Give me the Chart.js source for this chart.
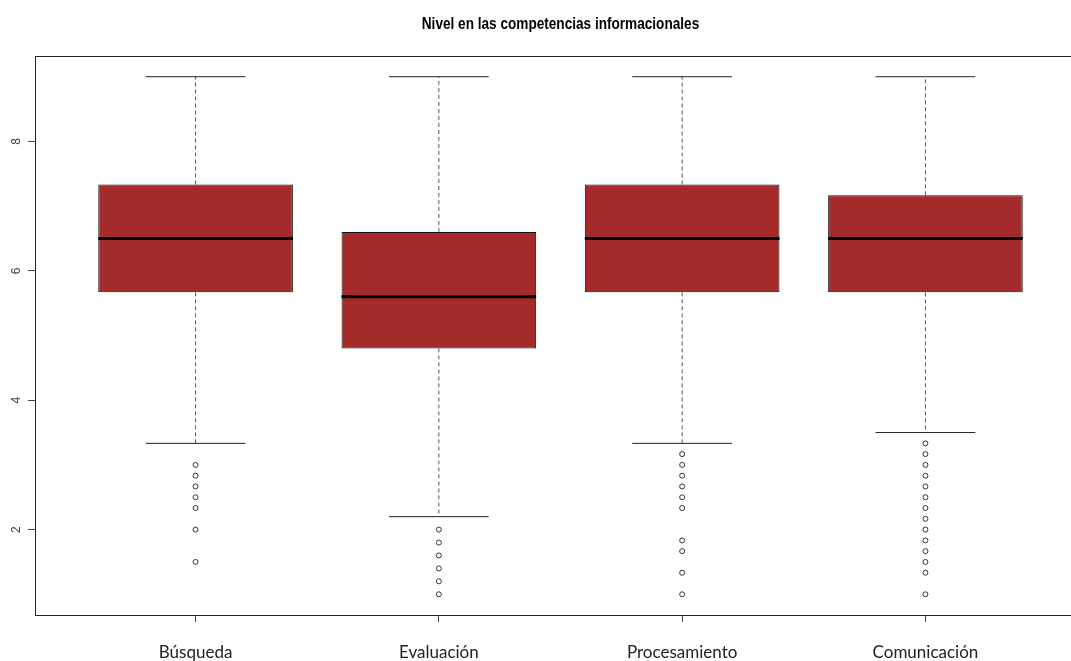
<!DOCTYPE html>
<html>
<head>
<meta charset="utf-8">
<script src="https://cdn.jsdelivr.net/npm/chart.js@4.4.1/dist/chart.umd.min.js"></script>
<style>
html,body{margin:0;padding:0;background:#fff;overflow:hidden;}
#wrap{position:absolute;left:0;top:0;width:1092px;height:661px;}
</style>
</head>
<body>
<div id="wrap"><canvas id="c" width="1092" height="661"></canvas></div>
<script>
const categories = ['Búsqueda', 'Evaluación', 'Procesamiento', 'Comunicación'];
const whiskerLow  = [3.333, 2.2, 3.333, 3.5];
const q1          = [5.667, 4.8, 5.667, 5.667];
const median      = [6.5, 5.6, 6.5, 6.5];
const q3          = [7.333, 6.6, 7.333, 7.167];
const whiskerHigh = [9, 9, 9, 9];
const outliersBusqueda      = [3.0, 2.833, 2.667, 2.5, 2.333, 2.0, 1.5];
const outliersEvaluacion    = [2.0, 1.8, 1.6, 1.4, 1.2, 1.0];
const outliersProcesamiento = [3.167, 3.0, 2.833, 2.667, 2.5, 2.333, 1.833, 1.667, 1.333, 1.0];
const outliersComunicacion  = [3.333, 3.167, 3.0, 2.833, 2.667, 2.5, 2.333, 2.167, 2.0, 1.833, 1.667, 1.5, 1.333, 1.0];
const yTicks = [2, 4, 6, 8];
const titleText = 'Nivel en las competencias informacionales';

const outlierLists = [outliersBusqueda, outliersEvaluacion, outliersProcesamiento, outliersComunicacion];
const BOX_HALF = 0.4, CAP_HALF = 0.205;

const boxData = categories.map((c, i) => ({x: i + 1, y: [q1[i], q3[i]]}));
const whiskerData = [], capData = [], medianData = [], outlierData = [];
categories.forEach((c, i) => {
  const x = i + 1;
  whiskerData.push({x, y: q3[i]}, {x, y: whiskerHigh[i]}, {x, y: null},
                   {x, y: q1[i]}, {x, y: whiskerLow[i]}, {x, y: null});
  capData.push({x: x - CAP_HALF, y: whiskerHigh[i]}, {x: x + CAP_HALF, y: whiskerHigh[i]}, {x, y: null},
               {x: x - CAP_HALF, y: whiskerLow[i]}, {x: x + CAP_HALF, y: whiskerLow[i]}, {x, y: null});
  medianData.push({x: x - BOX_HALF, y: median[i]}, {x: x + BOX_HALF, y: median[i]}, {x, y: null});
  outlierLists[i].forEach(v => outlierData.push({x, y: v}));
});

const framePlugin = {
  id: 'frame',
  afterDraw(chart) {
    const ctx = chart.ctx, a = chart.chartArea, ys = chart.scales.y;
    ctx.save();
    ctx.strokeStyle = '#222';
    ctx.lineWidth = 1;
    ctx.strokeRect(Math.round(a.left) + 0.5, Math.round(a.top) + 0.5,
                   Math.round(a.right - a.left), Math.round(a.bottom - a.top));
    // rotated y tick labels (R style)
    ctx.fillStyle = '#444';
    ctx.font = '12px "Liberation Sans", Arial, sans-serif';
    ctx.textAlign = 'center';
    ctx.textBaseline = 'middle';
    yTicks.forEach(v => {
      const py = ys.getPixelForValue(v);
      ctx.save();
      ctx.translate(17, py);
      ctx.rotate(-Math.PI / 2);
      ctx.fillText(String(v), 0, 0);
      ctx.restore();
    });
    // condensed bold title centred over the plot area
    ctx.save();
    ctx.fillStyle = '#000';
    ctx.font = 'bold 17px "Liberation Sans", Arial, sans-serif';
    ctx.textAlign = 'center';
    ctx.textBaseline = 'alphabetic';
    ctx.translate((a.left + a.right) / 2, 29);
    ctx.scale(0.8, 1);
    ctx.fillText(titleText, 0, 0);
    ctx.restore();
    ctx.restore();
  }
};

new Chart(document.getElementById('c'), {
  type: 'bar',
  data: {
    datasets: [
      {type: 'scatter', label: 'medians', data: medianData, showLine: true, spanGaps: false,
       borderColor: '#000', borderWidth: 3, pointRadius: 0, order: 1},
      {type: 'bar', label: 'boxes', data: boxData, backgroundColor: '#A52A2A', borderColor: '#111',
       borderWidth: 1, borderSkipped: false, barPercentage: 0.8, categoryPercentage: 1.0, order: 3},
      {type: 'scatter', label: 'whiskers', data: whiskerData, showLine: true, spanGaps: false,
       borderColor: '#555', borderWidth: 1, borderDash: [4, 3], pointRadius: 0, order: 4},
      {type: 'scatter', label: 'caps', data: capData, showLine: true, spanGaps: false,
       borderColor: '#222', borderWidth: 1, pointRadius: 0, order: 2},
      {type: 'scatter', label: 'outliers', data: outlierData, showLine: false,
       pointRadius: 2.5, pointBackgroundColor: '#fff', pointBorderColor: '#333', pointBorderWidth: 1, order: 0}
    ]
  },
  options: {
    responsive: false,
    animation: false,
    devicePixelRatio: 1,
    layout: {padding: {left: 0, right: 6, top: 56, bottom: 0}},
    plugins: {
      legend: {display: false},
      tooltip: {enabled: false},
      title: {display: false}
    },
    scales: {
      x: {
        type: 'linear', min: 0.34, max: 4.66, offset: false,
        afterBuildTicks(s) { s.ticks = [1, 2, 3, 4].map(v => ({value: v})); },
        afterFit(s) { s.height = 46; },
        ticks: {
          callback: v => categories[v - 1] || '',
          color: '#222', padding: 20, maxRotation: 0, autoSkip: false,
          font: {family: 'Lato, "Open Sans", sans-serif', size: 17}
        },
        grid: {offset: false, drawOnChartArea: false, drawTicks: true, tickLength: 7, color: '#444'},
        border: {display: true, color: '#222'}
      },
      y: {
        type: 'linear', min: 0.68, max: 9.32,
        afterBuildTicks(s) { s.ticks = yTicks.map(v => ({value: v})); },
        afterFit(s) { s.width = 35; },
        ticks: {color: 'rgba(0,0,0,0)', padding: 2, font: {size: 12}},
        grid: {drawOnChartArea: false, drawTicks: true, tickLength: 7, color: '#444'},
        border: {display: true, color: '#222'}
      }
    }
  },
  plugins: [framePlugin]
});
</script>
</body>
</html>
